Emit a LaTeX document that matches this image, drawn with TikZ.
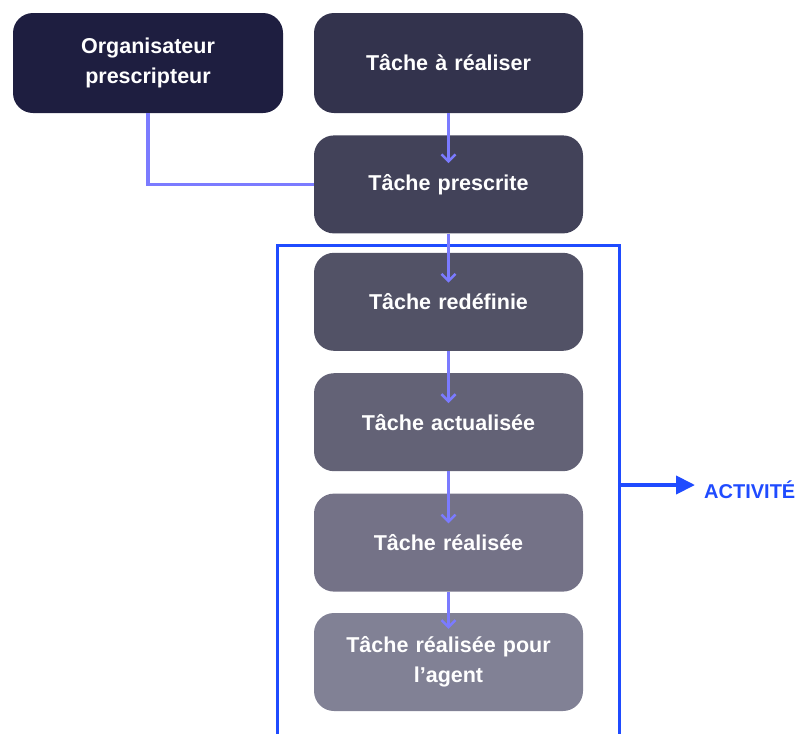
\documentclass[tikz,border=0pt]{standalone}
\usepackage{fontspec}
\setmainfont{Liberation Sans}
\usetikzlibrary{arrows.meta, positioning}
\definecolor{fleche}{HTML}{7B7BFF}
\definecolor{bleu}{HTML}{1F4BFF}
\tikzstyle{arrow} = [line width=2.5pt, draw=fleche, -{Straight Barb[length=7pt,width=14pt]}]
\tikzstyle{lien} = [line width=3.5pt, draw=fleche]
\tikzstyle{tache} = [rectangle, rounded corners=20pt, minimum width=269pt, minimum height=98pt, text centered, text width=255pt, text=white, font=\fontsize{21.5}{30}\selectfont\bfseries]

\begin{document}
\begin{tikzpicture}[x=1pt, y=-1pt, node distance=22pt]
\useasboundingbox (0,0) rectangle (801,734);
% Placement of nodes
\node (orga) [tache, fill={rgb,255:red,30;green,30;blue,64}, minimum width=270pt, minimum height=100pt] at (148,63) {Organisateur\\prescripteur};
\node (aRealiser) [tache, fill={rgb,255:red,51;green,51;blue,77}, minimum height=100pt] at (448.5,63) {Tâche à réaliser};
\node (prescrite) [tache, fill={rgb,255:red,66;green,66;blue,89}, below=22pt of aRealiser] {Tâche prescrite};
\node (redefinie) [tache, fill={rgb,255:red,82;green,82;blue,102}, below=19pt of prescrite] {Tâche redéfinie};
\node (actualisee) [tache, fill={rgb,255:red,99;green,98;blue,118}, below=of redefinie] {Tâche actualisée};
\node (realisee) [tache, fill={rgb,255:red,116;green,114;blue,135}, below=of actualisee] {Tâche réalisée};
\node (agent) [tache, fill={rgb,255:red,129;green,129;blue,149}, below=21pt of realisee] {Tâche réalisée pour\\l’agent};

% Activity frame
\coordinate (cadreBG) at (277,734);
\coordinate (cadreHG) at (277,245);
\coordinate (cadreHD) at (619,245);
\coordinate (cadreBD) at (619,734);
\coordinate (act) at (619,485);
\node (activite) [anchor=west, text=bleu, font=\fontsize{20}{22}\selectfont\bfseries, inner sep=0pt] at (704,490) {ACTIVITÉ};
\draw [line width=3pt, draw=bleu] (cadreBG) -- (cadreHG) -- (cadreHD) -- (cadreBD);
\draw [line width=4pt, draw=bleu, -{Triangle[length=19pt,width=18pt]}] (act) -- ([xshift=-9pt]activite.west |- act);

% Drawing of lines
\draw [lien] (orga.south) |- (prescrite.west);
\draw [arrow] (aRealiser.south) -- ([yshift=-28pt]prescrite.north);
\draw [arrow] (prescrite.south) -- ([yshift=-30pt]redefinie.north);
\draw [arrow] (redefinie.south) -- ([yshift=-30pt]actualisee.north);
\draw [arrow] (actualisee.south) -- ([yshift=-30pt]realisee.north);
\draw [arrow] (realisee.south) -- ([yshift=-16pt]agent.north);

\end{tikzpicture}
\end{document}
